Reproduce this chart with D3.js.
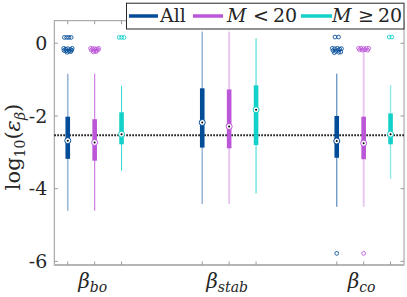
<!DOCTYPE html>
<html><head><meta charset="utf-8">
<script src="https://cdn.jsdelivr.net/npm/d3@7"></script>
<style>
html,body{margin:0;padding:0;background:#fff;}
svg{display:block;}
</style></head>
<body>
<svg id="chart" width="407" height="297"></svg>
<script>
// ---- data ----
const categories = ["bo", "stab", "co"];           // subscripts of beta
const seriesNames = ["All", "M < 20", "M \u2265 20"];
const seriesColors = ["#034c98", "#bc56d8", "#12d1cb"];
const whiskerLow  = [[-4.61, -4.61, -3.51], [-4.42, -4.42, -4.13], [-4.50, -4.50, -3.73]];
const q1          = [[-3.18, -3.23, -2.78], [-2.87, -2.89, -2.80], [-3.15, -3.19, -2.78]];
const medians     = [[-2.68, -2.73, -2.50], [-2.18, -2.29, -1.83], [-2.69, -2.75, -2.50]];
const q3          = [[-2.02, -2.09, -1.90], [-1.24, -1.27, -1.16], [-2.00, -2.02, -1.93]];
const whiskerHigh = [[-0.84, -0.84, -1.17], [0.32, 0.32, 0.14], [-0.84, -0.20, -1.15]];
const referenceLine = -2.53;
const yTicks = [0, -2, -4, -6];
// outliers: [category index, series index, value, horizontal jitter (category units)]
const outliers = [
  [0,0,0.16,-0.025],[0,0,0.16,-0.008],[0,0,0.16,0.008],[0,0,0.16,0.025],
  [0,0,-0.14,-0.03],[0,0,-0.16,-0.015],[0,0,-0.15,0.0],[0,0,-0.17,0.02],[0,0,-0.14,0.033],
  [0,0,-0.20,-0.028],[0,0,-0.22,0.01],[0,0,-0.19,0.03],[0,0,-0.25,-0.005],[0,0,-0.23,0.022],[0,0,-0.21,-0.015],
  [0,1,-0.14,-0.03],[0,1,-0.15,-0.015],[0,1,-0.15,0.0],[0,1,-0.16,0.015],[0,1,-0.14,0.03],
  [0,1,-0.19,-0.025],[0,1,-0.20,-0.005],[0,1,-0.21,0.012],[0,1,-0.18,0.027],[0,1,-0.24,-0.01],[0,1,-0.23,0.01],
  [0,2,0.16,-0.018],[0,2,0.16,0.0],[0,2,0.16,0.018],
  [2,0,0.17,-0.013],[2,0,0.17,0.013],
  [2,0,-0.14,-0.033],[2,0,-0.15,-0.015],[2,0,-0.14,0.005],[2,0,-0.16,0.022],[2,0,-0.15,0.035],
  [2,0,-0.20,-0.028],[2,0,-0.22,-0.008],[2,0,-0.19,0.012],[2,0,-0.24,0.03],[2,0,-0.26,-0.018],[2,0,-0.25,0.015],
  [2,0,-5.78,0.0],
  [2,1,-0.14,-0.038],[2,1,-0.14,-0.02],[2,1,-0.15,0.0],[2,1,-0.14,0.02],[2,1,-0.14,0.038],
  [2,1,-0.18,-0.03],[2,1,-0.19,-0.01],[2,1,-0.18,0.01],[2,1,-0.19,0.03],
  [2,1,-5.78,0.0],
  [2,2,0.17,-0.01],[2,2,0.17,0.01]
];

// ---- layout ----
const FONT = "'DejaVu Serif', 'Liberation Serif', serif";
const svg = d3.select("#chart");
const M = {left: 54.3, right: 404, top: 20.7, bottom: 265};
const x = d3.scaleLinear().domain([0.7, 3.3]).range([M.left, M.right]);
const y = d3.scaleLinear().domain([-6.1, 0.62]).range([M.bottom, M.top]);
const offsets = [-0.2, 0, 0.2];
const xPos = (c, s) => x(c + 1 + offsets[s]);
const whiskerOpacity = [[0.4, 0.75, 0.8], [0.4, 0.35, 0.8], [0.65, 0.35, 0.45]];
const whiskerWidth = [[1.6, 1.2, 1.1], [1.6, 1.8, 1.1], [1.2, 1.8, 1.4]];

// axes box
const axisColor = "#9a9a9a";
const axG = svg.append("g");
axG.append("rect").attr("x", M.left).attr("y", M.top)
  .attr("width", M.right - M.left).attr("height", M.bottom - M.top)
  .attr("fill", "none").attr("stroke", axisColor).attr("stroke-width", 1);
axG.append("line").attr("x1", M.left).attr("x2", M.right).attr("y1", M.bottom).attr("y2", M.bottom)
  .attr("stroke", "#b5b5b5").attr("stroke-width", 1.8);

yTicks.forEach(t => {
  axG.append("line").attr("x1", M.left).attr("x2", M.left + 3.5).attr("y1", y(t)).attr("y2", y(t)).attr("stroke", axisColor);
  axG.append("line").attr("x1", M.right).attr("x2", M.right - 3.5).attr("y1", y(t)).attr("y2", y(t)).attr("stroke", axisColor);
});
categories.forEach((c, ci) => seriesNames.forEach((s, si) => {
  const px = xPos(ci, si);
  axG.append("line").attr("x1", px).attr("x2", px).attr("y1", M.bottom).attr("y2", M.bottom - 3.5).attr("stroke", axisColor);
  axG.append("line").attr("x1", px).attr("x2", px).attr("y1", M.top).attr("y2", M.top + 3.5).attr("stroke", axisColor);
}));

// y tick labels
const yAxis = d3.axisLeft(y).tickValues(yTicks).tickSize(0).tickPadding(7).tickFormat(d => d === 0 ? "0" : "-" + Math.abs(d));
const yg = svg.append("g").attr("transform", `translate(${M.left},0)`).call(yAxis);
yg.attr("font-family", FONT).attr("font-size", 19);
yg.select(".domain").remove();
yg.selectAll("text").attr("fill", "#262626");

// y label
const yl = svg.append("text").attr("transform", "translate(20,147) rotate(-90)")
  .attr("text-anchor", "middle").attr("font-size", 21).attr("font-family", FONT).attr("fill", "#262626");
yl.append("tspan").text("log");
yl.append("tspan").attr("font-size", 14).attr("dy", 5).text("10");
yl.append("tspan").attr("dy", -5).text("(");
yl.append("tspan").attr("font-style", "italic").text("\u03b5");
yl.append("tspan").attr("font-style", "italic").attr("font-size", 14).attr("dy", 5).text("\u03b2");
yl.append("tspan").attr("dy", -5).text(")");

// category labels
categories.forEach((c, ci) => {
  const t = svg.append("text").attr("x", x(ci + 1) - 2).attr("y", 288).attr("text-anchor", "middle")
    .attr("font-size", 20).attr("font-style", "italic").attr("font-family", FONT).attr("fill", "#262626");
  t.append("tspan").text("\u03b2");
  t.append("tspan").attr("font-size", 14).attr("dy", 4).text(c);
});

// reference dotted line
svg.append("line").attr("x1", M.left).attr("x2", M.right)
  .attr("y1", y(referenceLine)).attr("y2", y(referenceLine))
  .attr("stroke", "#111").attr("stroke-width", 2).attr("stroke-dasharray", "1.6,1.4");

// boxes
const marks = svg.append("g");
categories.forEach((c, ci) => seriesNames.forEach((s, si) => {
  const px = xPos(ci, si), col = seriesColors[si];
  marks.append("line").attr("x1", px).attr("x2", px)
    .attr("y1", y(whiskerLow[ci][si])).attr("y2", y(whiskerHigh[ci][si]))
    .attr("stroke", col).attr("stroke-opacity", whiskerOpacity[ci][si]).attr("stroke-width", whiskerWidth[ci][si]);
  marks.append("rect").attr("x", px - 2.3).attr("width", 4.6)
    .attr("y", y(q3[ci][si])).attr("height", y(q1[ci][si]) - y(q3[ci][si]))
    .attr("fill", col);
}));

// outliers
marks.selectAll("circle.out").data(outliers).join("circle").attr("class", "out")
  .attr("cx", d => x(d[0] + 1 + offsets[d[1]] + d[3]))
  .attr("cy", d => y(d[2]))
  .attr("r", 1.9).attr("fill", "none")
  .attr("stroke", d => seriesColors[d[1]]).attr("stroke-width", 1).attr("stroke-opacity", 0.85);

// medians
categories.forEach((c, ci) => seriesNames.forEach((s, si) => {
  const px = xPos(ci, si), py = y(medians[ci][si]);
  marks.append("circle").attr("cx", px).attr("cy", py).attr("r", 3)
    .attr("fill", "#fff").attr("stroke", seriesColors[si]).attr("stroke-width", 1);
  marks.append("circle").attr("cx", px).attr("cy", py).attr("r", 1).attr("fill", "#000");
}));

// legend
const lg = svg.append("g").attr("font-family", FONT).attr("fill", "#262626");
lg.append("rect").attr("x", 126.5).attr("y", 3.2).attr("width", 277.5).attr("height", 25.8)
  .attr("fill", "#fff").attr("stroke", "#262626").attr("stroke-width", 1);
const legendLines = [[129, 158], [193, 223], [301, 332]];
legendLines.forEach((l, i) => {
  lg.append("line").attr("x1", l[0]).attr("x2", l[1]).attr("y1", 16).attr("y2", 16)
    .attr("stroke", seriesColors[i]).attr("stroke-width", 3.5);
});
lg.append("text").attr("x", 160).attr("y", 21.5).attr("font-size", 19).text(seriesNames[0]);
[[1, 227, 253, 273, "<"], [2, 332, 358, 378, "\u2265"]].forEach(([i, xm, xo, xn]) => {
  const parts = seriesNames[i].split(" ");
  lg.append("text").attr("x", xm).attr("y", 21.5).attr("font-size", 19).attr("font-style", "italic").text(parts[0]);
  lg.append("text").attr("x", xo).attr("y", 21.5).attr("font-size", 19).text(parts[1]);
  lg.append("text").attr("x", xn).attr("y", 21.5).attr("font-size", 19).text(parts[2]);
});
</script>
</body></html>
